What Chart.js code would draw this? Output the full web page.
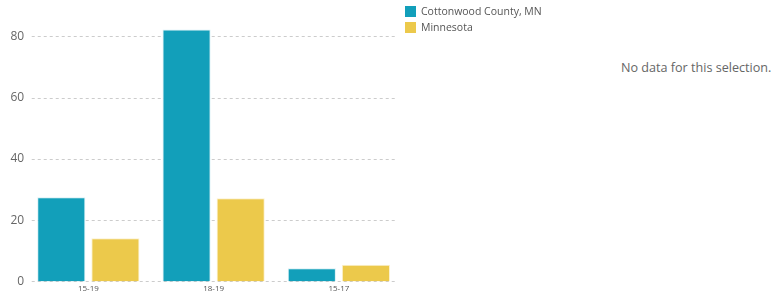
<!DOCTYPE html>
<html>
<head>
<meta charset="utf-8">
<script src="https://cdn.jsdelivr.net/npm/chart.js@4/dist/chart.umd.min.js"></script>
<style>
  html, body { margin: 0; padding: 0; background: #fff; }
  body { width: 774px; height: 294px; position: relative; overflow: hidden; font-family: "Open Sans", sans-serif; }
  #wrap { position: absolute; left: 0; top: 0; width: 553px; height: 294px; }
  #nodata { position: absolute; left: 621px; top: 59px; font-size: 12.6px; color: #666; white-space: nowrap; }
</style>
</head>
<body>
<div id="wrap"><canvas id="c"></canvas></div>
<div id="nodata">No data for this selection.</div>
<script>
const categories = ["15-19", "18-19", "15-17"];
const seriesNames = ["Cottonwood County, MN", "Minnesota"];
const cottonwood = [27.5, 82.3, 4.3];
const minnesota = [14.1, 27.2, 5.4];
const yTicks = [0, 20, 40, 60, 80];

// dashed horizontal gridlines, slightly inset from the plot edges
const insetGrid = {
  id: 'insetGrid',
  beforeDatasetsDraw(chart) {
    const { ctx, chartArea, scales } = chart;
    ctx.save();
    ctx.strokeStyle = '#cccccc';
    ctx.lineWidth = 1;
    ctx.setLineDash([3, 3]);
    scales.y.ticks.forEach(t => {
      const y = Math.round(scales.y.getPixelForValue(t.value)) + 0.5;
      ctx.beginPath();
      ctx.moveTo(chartArea.left + 6, y);
      ctx.lineTo(chartArea.right - 5, y);
      ctx.stroke();
    });
    ctx.restore();
  }
};

// legend drawn to the right of the plot
const sideLegend = {
  id: 'sideLegend',
  afterDraw(chart) {
    const { ctx, chartArea } = chart;
    ctx.save();
    ctx.font = '10.5px "Open Sans"';
    ctx.textBaseline = 'middle';
    chart.data.datasets.forEach((ds, i) => {
      const x = chartArea.right + 3.5;
      const y = 6 + i * 16;
      ctx.fillStyle = ds.backgroundColor;
      ctx.fillRect(x, y, 11, 11);
      ctx.fillStyle = '#555';
      ctx.fillText(ds.label, x + 16, y + 6);
    });
    ctx.restore();
  }
};

function draw() {
  new Chart(document.getElementById('c'), {
    type: 'bar',
    data: {
      labels: categories,
      datasets: [
        { label: seriesNames[0], data: cottonwood, backgroundColor: '#129FBA', borderColor: '#d8f0f5', borderWidth: 1 },
        { label: seriesNames[1], data: minnesota, backgroundColor: '#ECC94B', borderColor: '#fbf1cf', borderWidth: 1 }
      ]
    },
    plugins: [insetGrid, sideLegend],
    options: {
      responsive: true,
      maintainAspectRatio: false,
      animation: false,
      layout: { padding: { top: 12, bottom: -3, left: 9, right: 151.5 } },
      datasets: { bar: { categoryPercentage: 0.864, barPercentage: 0.89 } },
      plugins: {
        legend: { display: false },
        tooltip: { enabled: false }
      },
      scales: {
        x: {
          grid: { display: false, drawTicks: false },
          border: { display: false },
          ticks: { color: '#555', font: { family: 'Open Sans', size: 8 }, padding: 3, maxRotation: 0 }
        },
        y: {
          min: 0,
          max: 88,
          afterBuildTicks: (axis) => { axis.ticks = yTicks.map(v => ({ value: v })); },
          grid: { display: false, drawTicks: false },
          border: { display: false },
          ticks: { color: '#666', font: { family: 'Open Sans', size: 12 }, padding: 1.5 }
        }
      }
    }
  });
}
if (document.fonts && document.fonts.load) {
  Promise.all([
    document.fonts.load('10.5px "Open Sans"'),
    document.fonts.load('12px "Open Sans"'),
    document.fonts.load('8px "Open Sans"')
  ]).then(draw, draw);
} else { draw(); }
</script>
</body>
</html>
